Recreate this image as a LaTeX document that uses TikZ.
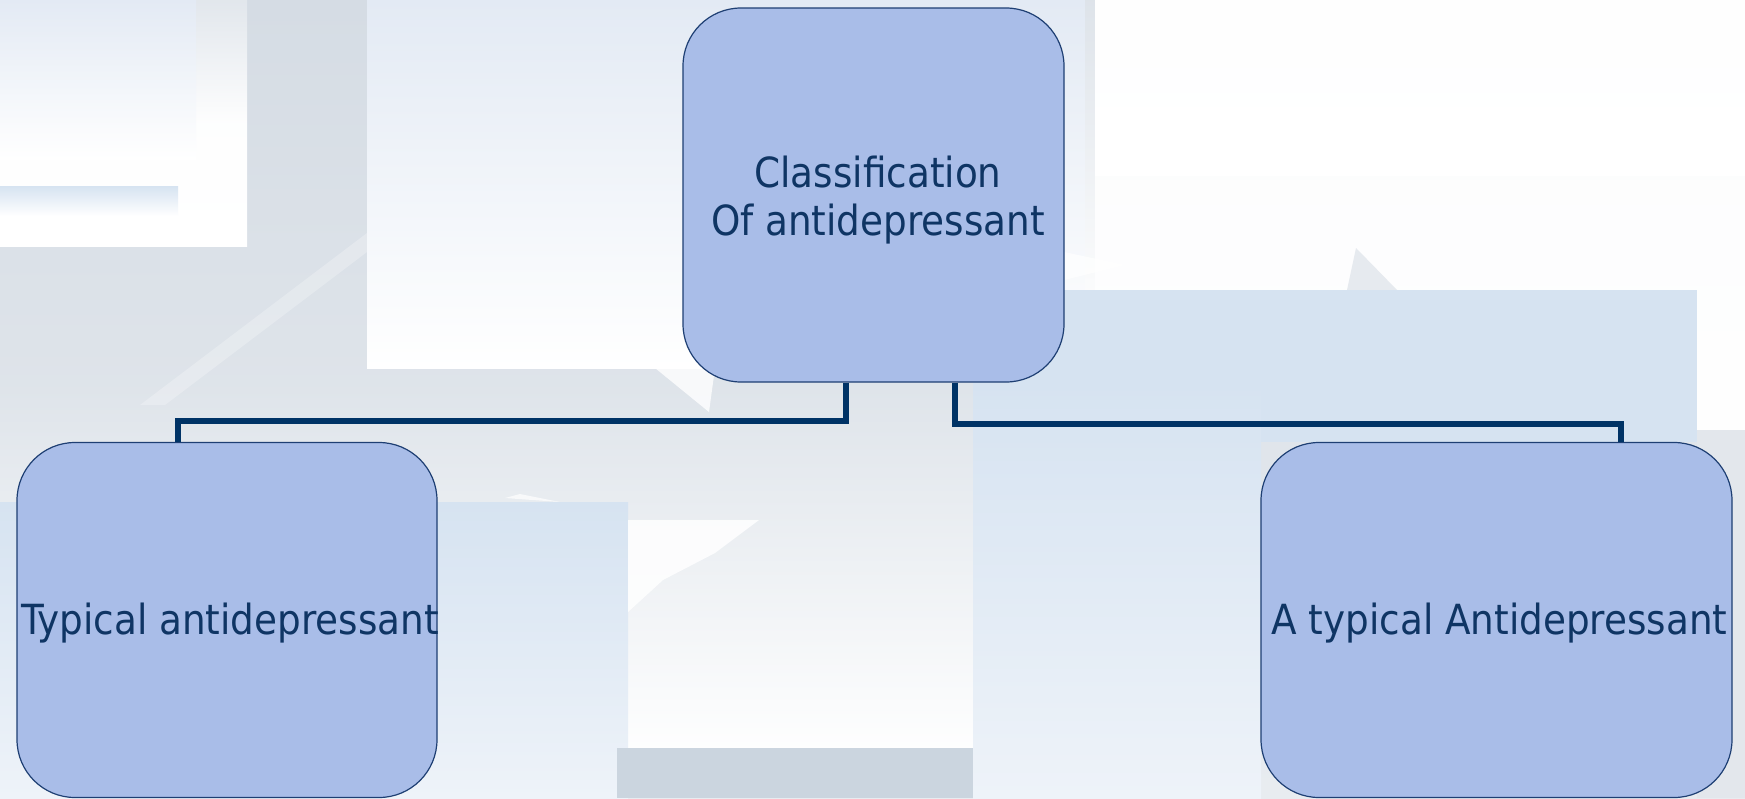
\documentclass[tikz,border=0pt]{standalone}
\usepackage{fontspec}
\setmainfont{DejaVu Sans Condensed}
\usetikzlibrary{calc}
\definecolor{boxfill}{HTML}{A9BDE8}
\definecolor{boxline}{HTML}{1E3F73}
\definecolor{txtblue}{HTML}{0F3564}
\definecolor{connblue}{HTML}{003366}
\definecolor{bgtop}{HTML}{D5DCE4}
\definecolor{bgbot}{HTML}{E8ECF0}
\definecolor{paleblue}{HTML}{D6E3F1}
\definecolor{paleblue2}{HTML}{EEF3F9}
\definecolor{lightgray}{HTML}{CBD5DF}
\definecolor{sidegray}{HTML}{E3E7EC}
\definecolor{hazeblue}{HTML}{E3EAF4}
\tikzset{
  boxnode/.style={draw=boxline, line width=1.2pt, fill=boxfill, rounded corners=58pt,
    text=txtblue, inner sep=0pt, font=\fontsize{41.5}{48}\selectfont},
  conn/.style={draw=connblue, line width=6pt},
  haze/.style={fill=white, opacity=0.25}
}
\begin{document}
\begin{tikzpicture}[x=1pt,y=-1pt]
\useasboundingbox (0,0) rectangle (1745,798);
% ---- background ----
\fill[top color=bgtop, bottom color=bgbot] (0,0) rectangle (1745,798);
% lower middle haze
\fill[top color=bgbot!48!bgtop, bottom color=white!97!bgtop] (0,382) rectangle (973,748);
% top-left panels
\fill[top color=bgtop!70!white, bottom color=white, middle color=white!96!bgtop] (0,0) rectangle (247,246);
\fill[top color=hazeblue, bottom color=white] (0,0) rectangle (196,159);
\fill[top color=paleblue, bottom color=white] (0,186) rectangle (178,216);
\fill[white] (0,216) rectangle (178,246);
% diagonal faint band
\fill[haze] (367,233) -- (367,252) -- (165,405) -- (140,405) -- cycle;
% top middle white panel (runs under the top box)
\fill[top color=hazeblue, bottom color=white] (367,0) rectangle (1085,368);
\fill[top color=bgtop!80!white, bottom color=white!90!bgtop] (1085,0) rectangle (1095,290);
% top-right white panel and haze below
\fill[top color=white!97!bgtop, bottom color=white] (1095,0) rectangle (1745,176);
\fill[top color=white!94!bgtop, bottom color=white!98!bgtop] (1095,176) rectangle (1745,430);
\fill[sidegray] (1697,430) rectangle (1745,798);
% pale triangle
\fill[bgtop!60!white] (1347,290) -- (1356,248) -- (1397,290) -- cycle;
\fill[white, opacity=0.7] (1064,252) -- (1125,265) -- (1064,280) -- cycle;
% right pale-blue panels
\fill[paleblue] (973,290) rectangle (1697,442);
\fill[top color=paleblue, bottom color=paleblue2] (973,382) rectangle (1261,798);
% left bottom pale-blue panel
\fill[top color=paleblue, bottom color=paleblue2] (0,502) rectangle (628,798);
% white wedges
\fill[white, opacity=0.85] (628,520) -- (759,520) -- (715,553) -- (663,580) -- (628,612) -- cycle;
\fill[white, opacity=0.8] (655,368) -- (715,368) -- (709,412) -- cycle;
\fill[white, opacity=0.7] (505,498) -- (520,494) -- (560,502) -- cycle;
\fill[lightgray] (617,748) rectangle (973,798);
% ---- nodes ----
\node[boxnode, minimum width=381pt, minimum height=374pt] (top) at (873.5,195)
  {\makebox[0pt]{\hspace*{9pt}\smash{\raisebox{8pt}{\begin{tabular}[t]{@{}c@{}}Classification\\Of antidepressant\end{tabular}}}}};
\node[boxnode, minimum width=420pt, minimum height=355pt] (left) at (227,620)
  {\makebox[0pt]{\hspace*{6pt}\smash{\raisebox{-14pt}{Typical antidepressant}}}};
\node[boxnode, minimum width=471pt, minimum height=355pt] (right) at (1496.5,620)
  {\makebox[0pt]{\hspace*{6pt}\smash{\raisebox{-14pt}{A typical Antidepressant}}}};
% ---- connectors ----
\draw[conn] ([xshift=-27.5pt]top.south) -- ++(0,38) -| ([xshift=-49pt]left.north);
\draw[conn] ([xshift=81.5pt]top.south) -- ++(0,41) -| ([xshift=124.5pt]right.north);
\end{tikzpicture}
\end{document}
